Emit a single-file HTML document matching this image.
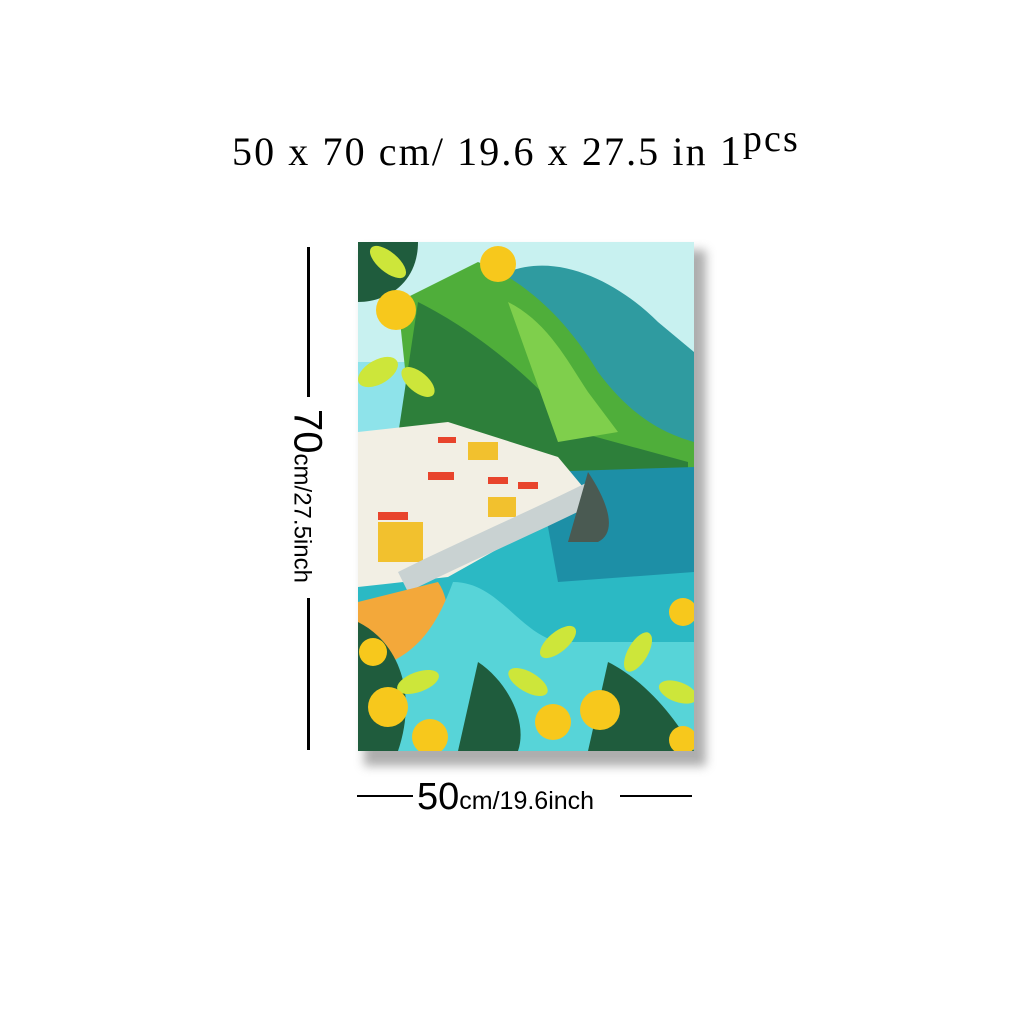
<!DOCTYPE html>
<html><head><meta charset="utf-8"><style>
html,body{margin:0;padding:0;background:#fff;}
#root{position:relative;width:1024px;height:1024px;overflow:hidden;background:#fff;font-family:"Liberation Sans",sans-serif;color:#000;}
.title{position:absolute;left:232px;top:128px;font-family:"Liberation Serif",serif;font-size:40px;white-space:nowrap;letter-spacing:2.1px;}
.title .pcs{position:relative;top:-14px;font-size:38px;}
.line{position:absolute;background:#000;}
</style></head><body>
<div id="root">
  <div class="title">50 x 70 cm/ 19.6 x 27.5 in <span style="font-size:42px">1</span><span class="pcs">pcs</span></div>

  <div class="line" style="left:307px;top:247px;width:3px;height:150px"></div>
  <div style="position:absolute;left:307px;top:496px;transform:translate(-50%,-50%) rotate(90deg);white-space:nowrap;font-size:24px;transform-origin:center;"><span style="font-size:40px">70</span>cm/27.5inch</div>
  <div class="line" style="left:307px;top:598px;width:3px;height:152px"></div>

  <div class="line" style="left:357px;top:795px;width:56px;height:2px"></div>
  <div style="position:absolute;left:417px;top:776px;white-space:nowrap;font-size:25px"><span style="font-size:38px">50</span>cm/19.6inch</div>
  <div class="line" style="left:620px;top:795px;width:72px;height:2px"></div>

  <div style="position:absolute;left:364px;top:250px;width:342px;height:516px;background:#9a9a9a;filter:blur(5px);opacity:.8"></div>
  <svg style="position:absolute;left:358px;top:242px" width="336" height="509" viewBox="0 0 336 509">
    <rect width="336" height="509" fill="#8ee3ea"/>
    <rect width="336" height="120" fill="#c8f1f0"/>
    <path d="M150 30 C200 10 260 40 300 80 L336 110 L336 230 L120 240 Z" fill="#2f9ba0"/>
    <path d="M120 20 C170 40 210 80 240 130 C270 170 300 190 336 200 L336 240 L60 250 L40 60 Z" fill="#4fae3a"/>
    <path d="M60 60 C120 90 180 140 220 190 L330 220 L330 240 L30 260 Z" fill="#2d7f3a"/>
    <path d="M150 60 C190 80 210 120 230 150 L260 190 L200 200 Z" fill="#7fcf4c"/>
    <rect y="230" width="336" height="279" fill="#2bb9c4"/>
    <path d="M180 230 L336 225 L336 330 L200 340 Z" fill="#1d8fa6"/>
    <path d="M0 190 L90 180 L200 215 L225 245 L170 290 L90 335 L0 345 Z" fill="#f2efe4"/>
    <g fill="#e8442c">
      <rect x="20" y="270" width="30" height="8"/><rect x="70" y="230" width="26" height="8"/><rect x="110" y="210" width="22" height="7"/><rect x="130" y="235" width="20" height="7"/><rect x="160" y="240" width="20" height="7"/><rect x="80" y="195" width="18" height="6"/>
    </g>
    <g fill="#f2c12e">
      <rect x="20" y="280" width="45" height="40"/><rect x="110" y="200" width="30" height="18"/><rect x="130" y="255" width="28" height="20"/>
    </g>
    <path d="M40 330 C100 300 170 270 230 240 L240 260 C180 290 110 320 50 350 Z" fill="#c9d2d2"/>
    <path d="M230 230 C250 260 260 290 240 300 L210 300 Z" fill="#4a5a52"/>
    <path d="M80 340 C100 370 80 400 90 420 L0 430 L0 360 Z" fill="#f3a83a"/>
    <path d="M95 340 C140 340 160 390 200 400 L336 400 L336 509 L0 509 L0 430 C60 420 80 380 95 340 Z" fill="#57d4d8"/>
    <g fill="#1f5c3d">
      <path d="M0 380 C40 400 60 450 40 509 L0 509 Z"/>
      <path d="M120 420 C150 440 170 480 160 509 L100 509 Z"/>
      <path d="M250 420 C290 440 320 480 336 509 L230 509 Z"/>
      <path d="M0 0 L60 0 C60 40 30 60 0 60 Z"/>
    </g>
    <g fill="#cde63a">
      <ellipse cx="20" cy="130" rx="22" ry="12" transform="rotate(-30 20 130)"/>
      <ellipse cx="60" cy="140" rx="20" ry="10" transform="rotate(40 60 140)"/>
      <ellipse cx="200" cy="400" rx="22" ry="10" transform="rotate(-40 200 400)"/>
      <ellipse cx="170" cy="440" rx="22" ry="10" transform="rotate(30 170 440)"/>
      <ellipse cx="280" cy="410" rx="22" ry="10" transform="rotate(-60 280 410)"/>
      <ellipse cx="320" cy="450" rx="20" ry="10" transform="rotate(20 320 450)"/>
      <ellipse cx="60" cy="440" rx="22" ry="10" transform="rotate(-20 60 440)"/>
      <ellipse cx="30" cy="20" rx="22" ry="10" transform="rotate(40 30 20)"/>
    </g>
    <g fill="#f7c81c">
      <circle cx="38" cy="68" r="20"/><circle cx="140" cy="22" r="18"/>
      <circle cx="30" cy="465" r="20"/><circle cx="72" cy="495" r="18"/><circle cx="195" cy="480" r="18"/>
      <circle cx="242" cy="468" r="20"/><circle cx="325" cy="370" r="14"/><circle cx="325" cy="498" r="14"/>
      <circle cx="15" cy="410" r="14"/>
    </g>
  </svg>
</div>
</body></html>
